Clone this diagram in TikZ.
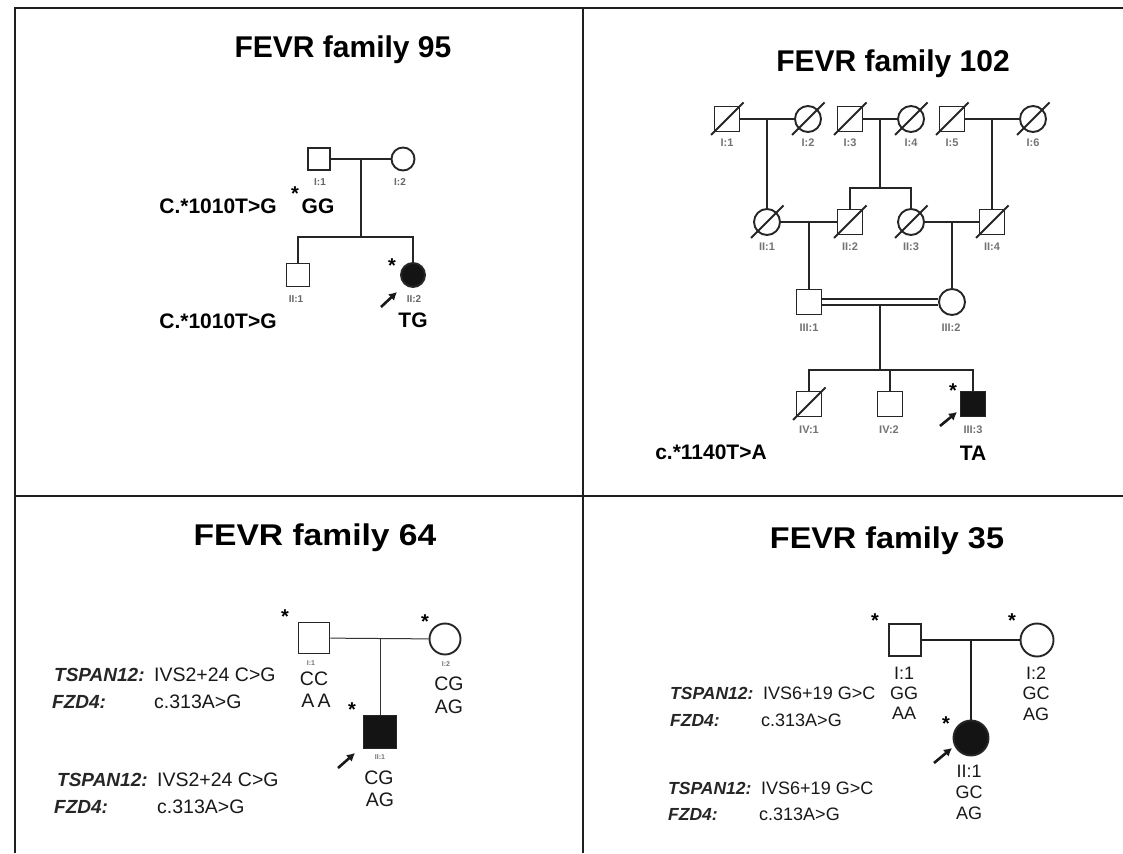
\documentclass[tikz,border=0pt]{standalone}
\usepackage{fontspec}
\setmainfont{Liberation Sans}
\usepackage{graphicx}
\usetikzlibrary{arrows.meta}
\newcommand{\myfs}[1]{\fontsize{#1}{#1}\selectfont}
\begin{document}
\begin{tikzpicture}[x=1pt,y=-1pt,
  frame/.style={line width=2.6pt, draw=black!88},
  ped/.style={line width=1.9pt, draw=black!85},
  thinped/.style={line width=1pt, draw=black!80},
  thickped/.style={line width=2.3pt, draw=black!88},
  sq/.style={draw=black!85, rectangle, line width=1.9pt, minimum width=#1, minimum height=#1, inner sep=0pt, fill=white},
  ci/.style={draw=black!85, circle, line width=1.9pt, minimum size=#1, inner sep=0pt, fill=white},
  aff/.style={fill=black!92},
  title/.style={font=\myfs{30}\bfseries, anchor=base, inner sep=0pt},
  idl/.style={font=\myfs{10}\bfseries, text=black!60, inner sep=0pt},
  idm/.style={font=\myfs{11}\bfseries, text=black!55, inner sep=0pt},
  ids/.style={font=\myfs{7}\bfseries, text=black!55, inner sep=0pt},
  gt/.style={font=\myfs{21}\bfseries, inner sep=0pt},
  gr/.style={font=\myfs{19.5}, text=black!90, inner sep=0pt},
  gri/.style={font=\myfs{19}\bfseries\itshape, text=black!85, inner sep=0pt},
  gr4/.style={font=\myfs{18}, text=black!90, inner sep=0pt},
  gri4/.style={font=\myfs{17.5}\bfseries\itshape, text=black!85, inner sep=0pt},
  star/.style={font=\myfs{20}\bfseries, inner sep=0pt},
  prob/.style={-{Latex[length=8pt,width=9pt]}, line width=2.6pt, draw=black!90}
]
\useasboundingbox (0,0) rectangle (1123,853);
\fill[white] (0,0) rectangle (1123,853);

% ---------- frame ----------
\draw[frame] (15,853) -- (15,8) -- (1123,8);
\draw[frame] (583,8) -- (583,853);
\draw[frame] (15,496) -- (1123,496);

% ---------- family 95 ----------
\node[title] (t95) at (343,58) {FEVR family 95};
\coordinate (p1m) at (361,159);
\coordinate (p1s) at (361,237);
\node[sq=22] (p1a) at (319,159) {};
\node[ci=23] (p1b) at (403,159) {};
\node[sq=23] (p1c) at (298,275) {};
\node[ci=24,aff] (p1d) at (413,275) {};
\draw[ped] (p1a) -- (p1b);
\draw[ped] (p1m) -- (p1s);
\draw[ped] (p1c.north) |- (p1s) -| (p1d.north);
\node[idl] (p1la) at (320,182) {I:1};
\node[idl] (p1lb) at (400,182) {I:2};
\node[idl] (p1lc) at (296,299) {II:1};
\node[idl] (p1ld) at (414,299) {II:2};
\node[star] (p1sa) at (295,194) {*};
\node[gt] (p1ga) at (318,206) {GG};
\node[gt] (p1va) at (218,206) {C.*1010T>G};
\node[gt] (p1vb) at (218,321) {C.*1010T>G};
\node[star] (p1sd) at (392,266) {*};
\node[gt] (p1gd) at (413,320) {TG};
\coordinate (p1r0) at (381,307);
\coordinate (p1r1) at (397,292);
\draw[prob] (p1r0) -- (p1r1);

% ---------- family 102 ----------
\node[title] (t102) at (893,72) {FEVR family 102};
% generation I
\node[sq=25] (b1) at (727,119) {};
\node[ci=26] (b2) at (808,119) {};
\node[sq=25] (b3) at (850,119) {};
\node[ci=26] (b4) at (911,119) {};
\node[sq=25] (b5) at (952,119) {};
\node[ci=26] (b6) at (1033,119) {};
% generation II
\node[ci=26] (c1) at (767,222) {};
\node[sq=25] (c2) at (850,222) {};
\node[ci=26] (c3) at (911,222) {};
\node[sq=25] (c4) at (992,222) {};
% generation III
\node[sq=25] (d1) at (809,302) {};
\node[ci=26] (d2) at (952,302) {};
% generation IV
\node[sq=25] (e1) at (809,404) {};
\node[sq=25] (e2) at (890,404) {};
\node[sq=25,aff] (e3) at (973,404) {};
\coordinate (j1) at (767,119);
\coordinate (j2) at (880,119);
\coordinate (j2s) at (880,188);
\coordinate (j3) at (992,119);
\coordinate (j4) at (809,222);
\coordinate (j5) at (952,222);
\coordinate (j6) at (880,302);
\coordinate (j6s) at (880,370);
\draw[ped] (b1) -- (b2);
\draw[ped] (b3) -- (b4);
\draw[ped] (b5) -- (b6);
\draw[ped] (j1) -- (c1.north);
\draw[ped] (j2) -- (j2s);
\draw[ped] (c2.north) |- (j2s) -| (c3.north);
\draw[ped] (j3) -- (c4.north);
\draw[ped] (c1) -- (c2);
\draw[ped] (c3) -- (c4);
\draw[ped] (j4) -- (d1.north);
\draw[ped] (j5) -- (d2.north);
\draw[ped] (j6) -- (j6s);
\draw[ped] (e1.north) |- (j6s) -| (e3.north);
\draw[ped] (e2.north) -- (e2.north |- j6s);
\draw[line width=1.7pt, draw=black!85, double=white, double distance=4pt] (d1.east) -- (d2.west);
% deceased slashes
\foreach \n in {b1,b2,b3,b4,b5,b6,c1,c2,c3,c4,e1}
  \draw[ped] ([shift={(-16,16)}]\n.center) -- ([shift={(16.5,-16.5)}]\n.center);
% labels
\node[idm] (lb1) at (727,143) {I:1};
\node[idm] (lb2) at (808,143) {I:2};
\node[idm] (lb3) at (850,143) {I:3};
\node[idm] (lb4) at (911,143) {I:4};
\node[idm] (lb5) at (952,143) {I:5};
\node[idm] (lb6) at (1033,143) {I:6};
\node[idm] (lc1) at (767,247) {II:1};
\node[idm] (lc2) at (850,247) {II:2};
\node[idm] (lc3) at (911,247) {II:3};
\node[idm] (lc4) at (992,247) {II:4};
\node[idm] (ld1) at (809,328) {III:1};
\node[idm] (ld2) at (951,328) {III:2};
\node[idm] (le1) at (809,430) {IV:1};
\node[idm] (le2) at (889,430) {IV:2};
\node[idm] (le3) at (973,430) {III:3};
\node[star] (se3) at (953,391) {*};
\coordinate (e3r0) at (940,426);
\coordinate (e3r1) at (957,412);
\draw[prob] (e3r0) -- (e3r1);
\node[gt] (ge3) at (973,453) {TA};
\node[gt] (v102) at (711,452) {c.*1140T>A};

% ---------- family 64 ----------
\node[title] (t64) at (315,545) {\scalebox{1.12}[1]{FEVR family 64}};
\node[sq=31] (p3a) at (314,638) {};
\node[ci=31] (p3b) at (445,639) {};
\node[sq=33,aff] (p3c) at (380,732) {};
\coordinate (p3m) at (380,639);
\draw[thinped] (p3a) -- (p3b);
\draw[thinped] (p3m) -- (p3c.north);
\node[ids] (l3a) at (311,663) {I:1};
\node[ids] (l3b) at (446,664) {I:2};
\node[ids] (l3c) at (380,757) {II:1};
\node[star] (s3a) at (285,617) {*};
\node[star] (s3b) at (425,622) {*};
\node[star] (s3c) at (352,710) {*};
\coordinate (p3r0) at (338,768);
\coordinate (p3r1) at (355,753);
\draw[prob] (p3r0) -- (p3r1);
\node[gr] (g3a1) at (314,679) {CC};
\node[gr] (g3a2) at (316,701) {A\,A};
\node[gr] (g3b1) at (449,684) {CG};
\node[gr] (g3b2) at (449,707) {AG};
\node[gr] (g3c1) at (379,778) {CG};
\node[gr] (g3c2) at (380,800) {AG};
\node[gri, anchor=west] (m3a) at (54,675) {TSPAN12:};
\node[gr, anchor=west] (m3b) at (154,675) {IVS2+24 C>G};
\node[gri, anchor=west] (m3c) at (52,702) {FZD4:};
\node[gr, anchor=west] (m3d) at (154,702) {c.313A>G};
\node[gri, anchor=west] (m3e) at (57,780) {TSPAN12:};
\node[gr, anchor=west] (m3f) at (157,780) {IVS2+24 C>G};
\node[gri, anchor=west] (m3g) at (54,807) {FZD4:};
\node[gr, anchor=west] (m3h) at (157,807) {c.313A>G};

% ---------- family 35 ----------
\node[title] (t35) at (887,548) {\scalebox{1.08}[1]{FEVR family 35}};
\node[sq=32] (p4a) at (905,640) {};
\node[ci=33] (p4b) at (1037,640) {};
\node[ci=35,aff] (p4c) at (971,738) {};
\coordinate (p4m) at (971,640);
\draw[thickped] (p4a) -- (p4b);
\draw[thickped] (p4m) -- (p4c.north);
\node[gr4] (l4a) at (904,673) {I:1};
\node[gr4] (g4a1) at (904,693) {GG};
\node[gr4] (g4a2) at (904,713) {AA};
\node[gr4] (l4b) at (1036,673) {I:2};
\node[gr4] (g4b1) at (1036,693) {GC};
\node[gr4] (g4b2) at (1036,714) {AG};
\node[gr4] (l4c) at (969,771) {II:1};
\node[gr4] (g4c1) at (969,792) {GC};
\node[gr4] (g4c2) at (969,813) {AG};
\node[star] (s4a) at (875,621) {*};
\node[star] (s4b) at (1012,621) {*};
\node[star] (s4c) at (946,724) {*};
\coordinate (p4r0) at (934,763);
\coordinate (p4r1) at (952,748);
\draw[prob] (p4r0) -- (p4r1);
\node[gri4, anchor=west] (m4a) at (670,693) {TSPAN12:};
\node[gr4, anchor=west] (m4b) at (763,693) {IVS6+19 G>C};
\node[gri4, anchor=west] (m4c) at (670,720) {FZD4:};
\node[gr4, anchor=west] (m4d) at (761,720) {c.313A>G};
\node[gri4, anchor=west] (m4e) at (668,788) {TSPAN12:};
\node[gr4, anchor=west] (m4f) at (761,788) {IVS6+19 G>C};
\node[gri4, anchor=west] (m4g) at (668,814) {FZD4:};
\node[gr4, anchor=west] (m4h) at (759,814) {c.313A>G};
\end{tikzpicture}
\end{document}
